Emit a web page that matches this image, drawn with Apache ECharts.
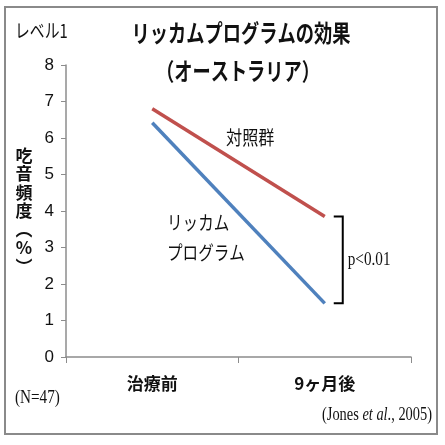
<!DOCTYPE html>
<html>
<head>
<meta charset="utf-8">
<script src="https://cdn.jsdelivr.net/npm/echarts@6/dist/echarts.min.js"></script>
<style>
  html, body { margin: 0; padding: 0; background: #fff; }
  #main { width: 445px; height: 445px; }
</style>
</head>
<body>
<div id="main"></div>
<script>
// values
const categories = ['治療前', '9ヶ月後'];
const controlGroup = [6.8, 3.85];   // 対照群
const lidcombeGroup = [6.42, 1.47]; // リッカムプログラム
const yMin = 0, yMax = 8, yStep = 1;

const jpFont = '"Noto Sans CJK JP", sans-serif';
const serifFont = '"Liberation Serif", "DejaVu Serif", serif';

const chart = echarts.init(document.getElementById('main'));

chart.setOption({
    animation: false,
    backgroundColor: '#fff',
    grid: { left: 66, right: 34, top: 65, bottom: 88 },
    xAxis: {
        type: 'category',
        data: categories,
        boundaryGap: true,
        axisLine: { lineStyle: { color: '#8c8c8c', width: 1.5 } },
        axisTick: { show: true, length: 6, lineStyle: { color: '#8c8c8c' } },
        axisLabel: {
            margin: 18,
            color: '#111',
            fontFamily: jpFont,
            fontWeight: 'bold',
            fontSize: 17
        }
    },
    yAxis: {
        type: 'value',
        min: yMin,
        max: yMax,
        interval: yStep,
        splitLine: { show: false },
        axisLine: { show: true, lineStyle: { color: '#8c8c8c', width: 1.5 } },
        axisTick: { show: true, length: 5, lineStyle: { color: '#8c8c8c' } },
        axisLabel: {
            margin: 12,
            color: '#111',
            fontFamily: '"Liberation Sans Narrow", "Liberation Sans", sans-serif',
            fontSize: 17
        }
    },
    series: [
        {
            name: '対照群',
            type: 'line',
            data: controlGroup,
            symbol: 'none',
            lineStyle: { color: '#C0504D', width: 3.5 }
        },
        {
            name: 'リッカムプログラム',
            type: 'line',
            data: lidcombeGroup,
            symbol: 'none',
            lineStyle: { color: '#4F81BD', width: 3.5 }
        }
    ]
});

// bracket next to the end points, placed from the data
const pTop = chart.convertToPixel({ seriesIndex: 0 }, [1, controlGroup[1]]);
const pBot = chart.convertToPixel({ seriesIndex: 1 }, [1, lidcombeGroup[1]]);
const bx0 = pTop[0] + 9, bx1 = pTop[0] + 18;

function txt(text, x, y, size, opts) {
    opts = opts || {};
    return {
        type: 'text',
        x: x, y: y,
        scaleX: opts.scaleX || 1,
        style: {
            text: text,
            fill: '#111',
            fontFamily: opts.family || jpFont,
            fontWeight: opts.weight || 'normal',
            fontSize: size,
            lineHeight: opts.lineHeight,
            align: opts.align || 'left',
            verticalAlign: 'middle',
            rich: opts.rich
        }
    };
}

chart.setOption({
    graphic: [
        {
            type: 'rect',
            shape: { x: 5, y: 7, width: 432, height: 427 },
            style: { fill: 'none', stroke: '#8a8a8a', lineWidth: 2 }
        },
        txt('リッカムプログラムの効果', 241, 33, 24, { align: 'center', weight: 'bold', scaleX: 0.76 }),
        txt('（オーストラリア）', 238, 71, 24, { align: 'center', weight: 'bold', scaleX: 0.76 }),
        txt('レベル1', 15, 31, 19, { scaleX: 0.78 }),
        txt('吃\n音\n頻\n度\n︵\n%\n︶', 24, 211, 17, { align: 'center', weight: 'bold', lineHeight: 18.5 }),
        txt('対照群', 226, 138, 19, { scaleX: 0.85 }),
        txt('リッカム', 167, 223, 19, { scaleX: 0.82 }),
        txt('プログラム', 167, 253, 19, { scaleX: 0.82 }),
        {
            type: 'polyline',
            shape: { points: [[bx0, pTop[1]], [bx1, pTop[1]], [bx1, pBot[1]], [bx0, pBot[1]]] },
            style: { fill: 'none', stroke: '#000', lineWidth: 2 }
        },
        txt('p<0.01', bx1 + 5, (pTop[1] + pBot[1]) / 2, 19, { family: serifFont, scaleX: 0.8 }),
        txt('(N=47)', 15, 398, 19, { family: serifFont, scaleX: 0.8 }),
        txt('{n|(Jones }{i|et al}{n|., 2005)}', 432, 415, 18, {
            family: serifFont,
            align: 'right',
            scaleX: 0.8,
            rich: {
                n: { fontFamily: serifFont, fontSize: 18, fill: '#111' },
                i: { fontFamily: serifFont, fontSize: 18, fontStyle: 'italic', fill: '#111' }
            }
        })
    ]
});
</script>
</body>
</html>
